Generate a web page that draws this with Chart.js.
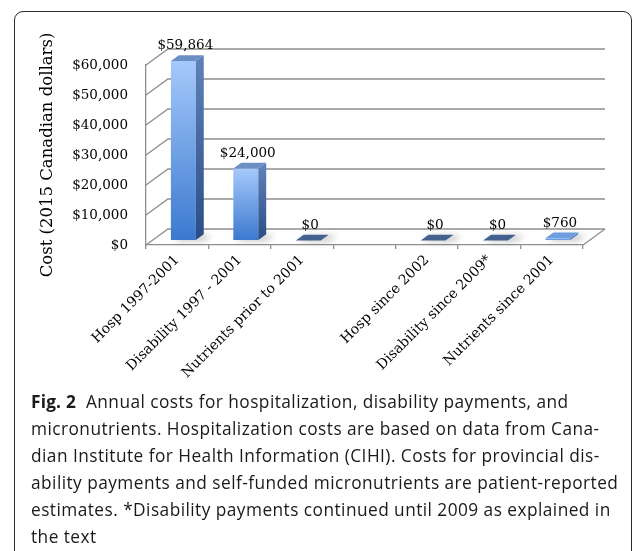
<!DOCTYPE html>
<html>
<head>
<meta charset="utf-8">
<script src="https://cdn.jsdelivr.net/npm/chart.js@4.4.0/dist/chart.umd.min.js"></script>
<style>
  html,body{margin:0;padding:0;background:#fff;overflow:hidden;width:633px;height:551px;}
  #wrap{position:relative;width:633px;height:551px;}
  #c{position:absolute;left:0;top:0;}
  #frame{position:absolute;left:14px;top:11px;width:618px;height:640px;box-sizing:border-box;
         border:1.3px solid #2b2b2b;border-radius:9px;pointer-events:none;}
  #cap{position:absolute;left:31px;top:388px;font-family:"Open Sans",sans-serif;font-size:17.3px;
       line-height:27px;color:#1a1a1a;white-space:nowrap;letter-spacing:0.45px;}
  #cap b{font-weight:700;letter-spacing:0.2px;}
</style>
</head>
<body>
<div id="wrap">
  <canvas id="c" width="633" height="390"></canvas>
  <div id="frame"></div>
  <div id="cap"><b>Fig. 2</b>&nbsp; Annual costs for hospitalization, disability payments, and<br>micronutrients. Hospitalization costs are based on data from Cana-<br>dian Institute for Health Information (CIHI). Costs for provincial dis-<br>ability payments and self-funded micronutrients are patient-reported<br>estimates. *Disability payments continued until 2009 as explained in<br>the text</div>
</div>
<script>
// datos
const categories = ['Hosp 1997-2001', 'Disability 1997 - 2001', 'Nutrients prior to 2001', '',
                    'Hosp since 2002', 'Disability since 2009*', 'Nutrients since 2001'];
const costs = [59864, 24000, 0, null, 0, 0, 760];
const yMin = 0, yMax = 60000, yStep = 10000;
const yTitle = 'Cost (2015 Canadian dollars)';

// look 3D (profundidad del piso y de las barras)
const DEPTH = {x: 22, y: -16};
const BAR_FRONT = 0.28, BAR_BACK = 0.64;
const GRID = '#8e8e8e';
const SERIF = '"DejaVu Serif", serif';

const money = v => '$' + Number(v).toLocaleString('en-US');

const wall3d = {
  id: 'wall3d',
  beforeDatasetsDraw(chart){
    const {ctx, chartArea: a, scales: {y}} = chart;
    ctx.save();
    ctx.strokeStyle = GRID; ctx.lineWidth = 1.3;
    // paredes: diagonales + lineas de fondo
    y.ticks.forEach(t => {
      const py = y.getPixelForValue(t.value);
      ctx.beginPath();
      ctx.moveTo(a.left, py); ctx.lineTo(a.left + DEPTH.x, py + DEPTH.y);
      ctx.lineTo(a.right + DEPTH.x, py + DEPTH.y);
      ctx.stroke();
    });
    // piso, lado derecho
    ctx.beginPath();
    ctx.moveTo(a.right, a.bottom); ctx.lineTo(a.right + DEPTH.x, a.bottom + DEPTH.y);
    ctx.stroke();

    // sombras sobre el piso
    const meta = chart.getDatasetMeta(0);
    const o = {x: DEPTH.x * BAR_FRONT, y: DEPTH.y * BAR_FRONT};
    const d = {x: DEPTH.x * (BAR_BACK - BAR_FRONT), y: DEPTH.y * (BAR_BACK - BAR_FRONT)};
    ctx.filter = 'blur(3px)';
    ctx.fillStyle = 'rgba(0,0,0,0.24)';
    meta.data.forEach((el, i) => {
      if (costs[i] == null) return;
      const L = el.x - el.width / 2 + o.x + 3, R = el.x + el.width / 2 + o.x + 8, b = el.base + o.y + 1;
      ctx.beginPath();
      ctx.moveTo(L, b); ctx.lineTo(R, b); ctx.lineTo(R + d.x, b + d.y); ctx.lineTo(L + d.x, b + d.y);
      ctx.closePath(); ctx.fill();
    });
    ctx.filter = 'none';
    ctx.restore();

    // las caras frontales las dibuja Chart.js, corridas hacia el fondo
    ctx.save();
    ctx.translate(o.x, o.y);
  },
  afterDatasetsDraw(chart){
    const {ctx} = chart;
    ctx.restore();
    const meta = chart.getDatasetMeta(0);
    const o = {x: DEPTH.x * BAR_FRONT, y: DEPTH.y * BAR_FRONT};
    const d = {x: DEPTH.x * (BAR_BACK - BAR_FRONT), y: DEPTH.y * (BAR_BACK - BAR_FRONT)};
    ctx.save();
    meta.data.forEach((el, i) => {
      const v = costs[i];
      if (v == null) return;
      const L = el.x - el.width / 2 + o.x, R = el.x + el.width / 2 + o.x;
      const top = el.y + o.y, bot = el.base + o.y;
      // cara lateral
      if (bot - top > 0.5) {
        const g = ctx.createLinearGradient(0, top, 0, bot);
        g.addColorStop(0, '#5d80b8'); g.addColorStop(1, '#2a4d85');
        ctx.fillStyle = g;
        ctx.beginPath();
        ctx.moveTo(R, top); ctx.lineTo(R + d.x, top + d.y); ctx.lineTo(R + d.x, bot + d.y); ctx.lineTo(R, bot);
        ctx.closePath(); ctx.fill();
      }
      // cara superior
      ctx.fillStyle = v === 0 ? '#43608f' : (bot - top < 10 ? '#6e9de0' : '#6b8fc5');
      ctx.beginPath();
      ctx.moveTo(L, top); ctx.lineTo(L + d.x, top + d.y); ctx.lineTo(R + d.x, top + d.y); ctx.lineTo(R, top);
      ctx.closePath(); ctx.fill();
      // etiqueta
      ctx.fillStyle = '#000';
      ctx.font = '13.5px ' + SERIF;
      ctx.textAlign = 'center'; ctx.textBaseline = 'middle';
      ctx.fillText(money(v), el.x + o.x + d.x / 2 - 2, top - 15);
    });
    ctx.restore();
  }
};

const H = 390;
new Chart(document.getElementById('c'), {
  type: 'bar',
  data: {
    labels: categories,
    datasets: [{
      data: costs,
      barPercentage: 0.4,
      categoryPercentage: 1,
      borderWidth: 0,
      backgroundColor: c => {
        const chart = c.chart, raw = c.raw;
        if (!chart.chartArea || raw == null) return '#3b79cf';
        const ys = chart.scales.y;
        const t = ys.getPixelForValue(raw), b = ys.getPixelForValue(0);
        if (b - t < 2) return '#6e9de0';
        const g = chart.ctx.createLinearGradient(0, t, 0, b);
        g.addColorStop(0, '#a5c9fb'); g.addColorStop(1, '#3b79cf');
        return g;
      }
    }]
  },
  options: {
    responsive: false,
    animation: false,
    layout: {padding: {left: 0, top: 65, right: 50, bottom: 0}},
    plugins: {legend: {display: false}, tooltip: {enabled: false}},
    scales: {
      x: {
        offset: true,
        grid: {offset: true, drawOnChartArea: false, drawTicks: true, tickLength: 4, color: GRID, lineWidth: 1.3},
        border: {color: GRID, width: 1.3},
        ticks: {minRotation: 45, maxRotation: 45, autoSkip: false, padding: 3,
                font: {family: SERIF, size: 14}, color: '#000'},
        afterFit(s){ s.height = H - 245; }
      },
      y: {
        min: yMin, max: yMax,
        grid: {drawOnChartArea: false, drawTicks: false},
        border: {color: GRID, width: 1.3},
        ticks: {stepSize: yStep, padding: 18, callback: v => money(v),
                font: {family: SERIF, size: 13.5}, color: '#000'},
        title: {display: true, text: yTitle, color: '#000', padding: {top: 38, bottom: 0},
                font: {family: SERIF, size: 16.5}},
        afterFit(s){ s.width = 146; }
      }
    }
  },
  plugins: [wall3d]
});
</script>
</body>
</html>
